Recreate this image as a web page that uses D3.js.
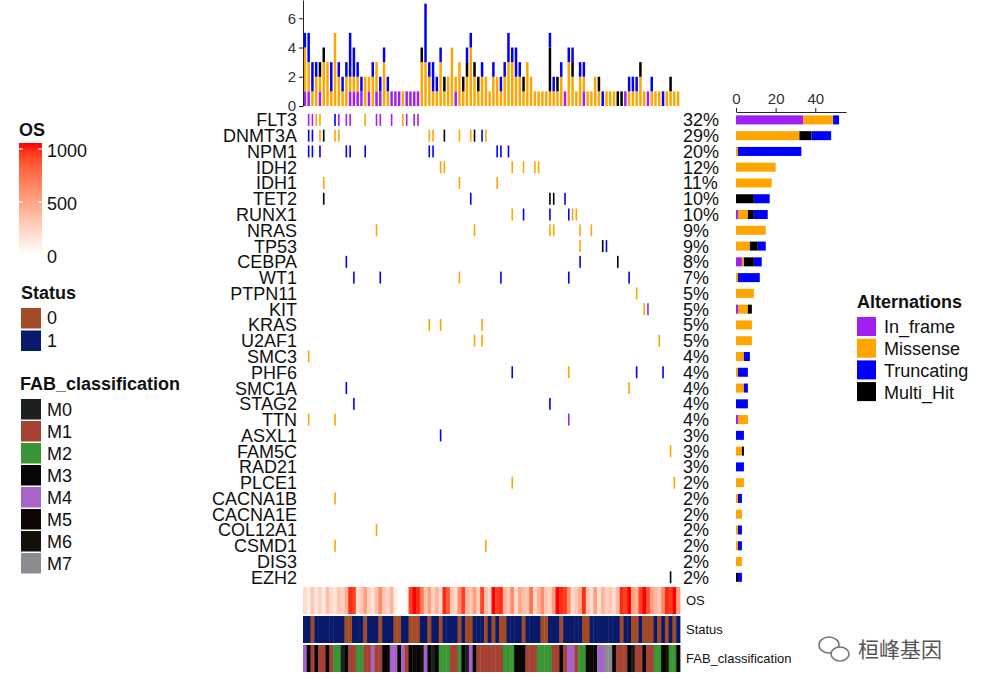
<!DOCTYPE html>
<html><head><meta charset="utf-8">
<script src="https://cdn.jsdelivr.net/npm/d3@7"></script>
<style>body{margin:0;background:#fff;} svg{display:block;font-family:"Liberation Sans",Arial,sans-serif;}</style>
</head><body><svg id="c" width="987" height="692"></svg>
<script>
// ---------------- DATA ----------------
const genes = ["FLT3","DNMT3A","NPM1","IDH2","IDH1","TET2","RUNX1","NRAS","TP53","CEBPA","WT1","PTPN11","KIT","KRAS","U2AF1","SMC3","PHF6","SMC1A","STAG2","TTN","ASXL1","FAM5C","RAD21","PLCE1","CACNA1B","CACNA1E","COL12A1","CSMD1","DIS3","EZH2"];
const genePct = ["32%","29%","20%","12%","11%","10%","10%","9%","9%","8%","7%","5%","5%","5%","5%","4%","4%","4%","4%","4%","3%","3%","3%","2%","2%","2%","2%","2%","2%","2%"];
// right side bar plot (counts per gene)
const geneInframe   = [34,0,0,0,0,0,1,0,0,3,0,0,1,0,0,0,0,0,0,1,0,0,0,0,0,0,0,0,0,0];
const geneMissense  = [15,32,1,20,18,0,5,15,7,1,1,9,5,8,8,4,1,4,0,5,0,3,0,4,1,3,1,1,3,0];
const geneMultiHit  = [0,6,0,0,0,9,3,0,4,5,0,0,2,0,0,0,0,0,0,0,0,1,0,0,0,0,0,0,0,1];
const geneTruncating= [3,10,32,0,0,8,7,0,4,4,11,0,0,0,0,3,5,2,6,0,4,0,4,0,2,0,2,2,0,2];
const rightTicks = [0,20,40];
const topTicks = [0,2,4,6];
// top bar plot (variants per sample), 100 samples
const topInframe   = [1,1,0,0,1,0,0,0,0,0,0,0,1,1,1,1,0,1,0,1,1,0,0,1,1,1,0,1,1,1,1,0,0,0,0,0,0,0,0,0,1,0,0,0,0,0,0,0,0,0,0,0,0,0,0,0,0,0,0,0,0,0,0,0,0,0,0,0,0,1,0,0,0,0,1,0,0,0,0,0,0,0,0,0,0,1,0,0,0,0,0,1,0,0,0,0,0,0,0,0];
const topMissense  = [3,2,1,2,1,3,3,1,5,2,1,2,1,1,1,0,2,1,2,2,0,3,1,0,0,0,1,0,0,0,0,3,3,2,1,1,3,1,2,4,1,3,1,2,4,2,1,2,2,1,2,2,1,2,3,3,2,2,1,3,2,1,1,1,1,1,1,1,2,0,3,2,1,2,1,1,1,2,1,0,1,1,1,0,0,0,1,1,1,2,1,0,1,1,1,0,1,1,1,1];
const topMultiHit  = [0,0,0,0,1,1,0,0,0,0,0,0,0,0,0,0,0,0,0,0,0,0,0,0,0,0,0,0,0,0,0,1,0,0,0,0,0,1,0,0,0,0,1,1,0,1,1,0,0,0,0,0,0,0,0,0,0,0,1,0,0,0,0,0,0,3,0,1,0,0,0,1,0,0,0,0,0,0,1,0,0,0,0,1,1,0,0,0,0,1,0,0,0,0,0,0,0,1,0,0];
const topTruncating= [1,2,2,1,0,0,0,2,0,1,1,1,3,2,1,1,0,0,1,0,1,1,1,0,0,0,0,0,0,0,0,0,4,1,2,1,1,0,0,0,0,0,0,1,1,0,0,1,0,0,1,0,1,1,2,1,2,1,0,0,0,0,0,0,0,1,1,0,1,0,1,1,0,1,1,0,0,0,0,1,0,0,0,0,0,0,1,1,1,0,0,0,1,0,0,1,0,0,0,0];
// oncoprint cells: [gene, sample, variant]
const cells = [
 ["FLT3",1,"In_frame"],["FLT3",2,"In_frame"],["FLT3",3,"Missense"],["FLT3",4,"Missense"],["FLT3",8,"Truncating"],["FLT3",9,"In_frame"],["FLT3",11,"In_frame"],["FLT3",12,"In_frame"],["FLT3",16,"Missense"],["FLT3",19,"In_frame"],["FLT3",20,"In_frame"],["FLT3",23,"In_frame"],["FLT3",26,"Missense"],["FLT3",27,"In_frame"],["FLT3",29,"In_frame"],["FLT3",30,"In_frame"],
 ["DNMT3A",1,"Truncating"],["DNMT3A",2,"Truncating"],["DNMT3A",4,"Missense"],["DNMT3A",5,"Multi_Hit"],["DNMT3A",8,"Missense"],["DNMT3A",9,"Missense"],["DNMT3A",33,"Missense"],["DNMT3A",34,"Missense"],["DNMT3A",37,"Multi_Hit"],["DNMT3A",41,"Missense"],["DNMT3A",44,"Missense"],["DNMT3A",45,"Multi_Hit"],["DNMT3A",47,"Truncating"],["DNMT3A",48,"Missense"],
 ["NPM1",1,"Truncating"],["NPM1",2,"Truncating"],["NPM1",4,"Truncating"],["NPM1",11,"Truncating"],["NPM1",12,"Truncating"],["NPM1",16,"Truncating"],["NPM1",33,"Truncating"],["NPM1",34,"Truncating"],["NPM1",51,"Truncating"],["NPM1",52,"Truncating"],["NPM1",54,"Truncating"],
 ["IDH2",36,"Missense"],["IDH2",37,"Missense"],["IDH2",55,"Missense"],["IDH2",58,"Missense"],["IDH2",61,"Missense"],["IDH2",62,"Missense"],
 ["IDH1",5,"Missense"],["IDH1",41,"Missense"],["IDH1",51,"Missense"],
 ["TET2",5,"Multi_Hit"],["TET2",44,"Truncating"],["TET2",65,"Multi_Hit"],["TET2",66,"Multi_Hit"],["TET2",69,"Truncating"],
 ["RUNX1",55,"Missense"],["RUNX1",58,"Truncating"],["RUNX1",65,"Truncating"],["RUNX1",70,"Truncating"],["RUNX1",71,"Missense"],["RUNX1",72,"Missense"],
 ["NRAS",19,"Missense"],["NRAS",45,"Missense"],["NRAS",65,"Missense"],["NRAS",66,"Missense"],["NRAS",73,"Missense"],["NRAS",76,"Missense"],
 ["TP53",73,"Missense"],["TP53",79,"Multi_Hit"],["TP53",80,"Truncating"],
 ["CEBPA",11,"Truncating"],["CEBPA",73,"Truncating"],["CEBPA",83,"Multi_Hit"],
 ["WT1",13,"Truncating"],["WT1",20,"Truncating"],["WT1",41,"Missense"],["WT1",52,"Truncating"],["WT1",70,"Truncating"],["WT1",86,"Truncating"],
 ["PTPN11",88,"Missense"],
 ["KIT",90,"Missense"],["KIT",91,"In_frame"],
 ["KRAS",33,"Missense"],["KRAS",36,"Missense"],["KRAS",47,"Missense"],
 ["U2AF1",45,"Missense"],["U2AF1",47,"Missense"],["U2AF1",94,"Missense"],
 ["SMC3",1,"Missense"],
 ["PHF6",55,"Truncating"],["PHF6",70,"Missense"],["PHF6",88,"Truncating"],["PHF6",95,"Truncating"],
 ["SMC1A",11,"Truncating"],["SMC1A",86,"Missense"],
 ["STAG2",13,"Truncating"],["STAG2",65,"Truncating"],
 ["TTN",1,"Missense"],["TTN",8,"Missense"],["TTN",70,"In_frame"],
 ["ASXL1",36,"Truncating"],
 ["FAM5C",97,"Missense"],
 ["PLCE1",55,"Missense"],["PLCE1",98,"Missense"],
 ["CACNA1B",8,"Missense"],
 ["COL12A1",19,"Missense"],
 ["CSMD1",8,"Missense"],["CSMD1",48,"Missense"],
 ["EZH2",97,"Multi_Hit"]
];
// clinical annotations per sample
const osDays = [200,100,300,150,250,100,350,200,150,300,250,400,950,900,200,300,500,250,150,350,600,300,200,400,100,20,10,30,900,1000,950,700,300,500,250,400,200,950,800,300,200,600,900,400,300,500,250,900,350,200,1000,900,950,400,300,600,200,450,350,300,700,200,400,600,300,250,500,1000,950,900,600,200,300,450,950,300,200,500,150,400,250,300,200,350,950,900,1000,500,400,900,1000,850,500,400,300,600,950,900,1000,500];
const status = [1,1,0,1,1,1,1,1,1,1,1,0,0,1,1,1,0,1,1,1,0,1,1,1,0,0,1,1,0,0,0,1,1,0,1,1,0,1,1,1,1,0,1,0,0,1,1,1,0,1,0,1,0,0,1,1,1,1,0,1,1,1,1,0,0,1,1,1,0,1,1,1,1,1,0,0,1,1,1,1,1,1,1,1,0,1,1,0,0,1,0,0,0,1,0,1,0,1,0,1];
const fab = ["M4","M3","M1","M3","M1","M1","M3","M1","M2","M2","M0","M3","M1","M1","M2","M2","M1","M1","M4","M1","M1","M3","M5","M4","M4","M3","M4","M1","M3","M5","M3","M6","M4","M3","M0","M3","M2","M2","M2","M1","M1","M2","M3","M0","M4","M3","M1","M1","M1","M1","M1","M1","M1","M2","M2","M2","M3","M5","M3","M1","M1","M1","M2","M2","M2","M2","M1","M1","M3","M1","M4","M4","M1","M2","M2","M3","M5","M3","M4","M4","M7","M7","M3","M1","M1","M1","M3","M0","M1","M1","M3","M1","M1","M2","M2","M3","M6","M2","M2","M3"];
const fabLevels = ["M0","M1","M2","M3","M4","M5","M6","M7"];
const statusLevels = [0,1];
const variantTypes = ["In_frame","Missense","Truncating","Multi_Hit"];
const osTicks = [0,500,1000];

// ---------------- STYLE ----------------
const vcol = {In_frame:"#A020F0",Missense:"#FFA500",Truncating:"#0000FF",Multi_Hit:"#000000"};
const fabCol = {M0:"#1B1F1E",M1:"#A64234",M2:"#3A9634",M3:"#060606",M4:"#A664C8",M5:"#0C0605",M6:"#16100A",M7:"#8A8C90"};
const statusCol = {0:"#A34A26",1:"#091A6B"};
const osColor = d3.scaleLinear().domain([0,1000]).range(["#ffffff","#ff0000"]).interpolate(d3.interpolateLab);

const svg = d3.select("#c");
const samples = d3.range(osDays.length);
const x = d3.scaleBand().domain(samples).range([303,680]);
const bw = x.bandwidth();
const y = d3.scaleBand().domain(genes).range([112,585.2]);
const rh = y.bandwidth();

// ---------------- TOP BAR PLOT ----------------
const yTop = d3.scaleLinear().domain([0,7.25]).range([106,0]);
const topStack = samples.map(i=>({i, In_frame:topInframe[i], Missense:topMissense[i], Multi_Hit:topMultiHit[i], Truncating:topTruncating[i]}));
const stackOrder = ["In_frame","Missense","Multi_Hit","Truncating"];
const stTop = d3.stack().keys(stackOrder)(topStack);
svg.append("g").selectAll("g").data(stTop).join("g").attr("fill",d=>vcol[d.key])
  .selectAll("rect").data(d=>d.filter(s=>s[1]>s[0])).join("rect")
  .attr("x",d=>x(d.data.i)+bw*0.17).attr("width",bw*0.66)
  .attr("y",d=>yTop(d[1])).attr("height",d=>yTop(d[0])-yTop(d[1]));
const axL = svg.append("g").attr("transform","translate(303,0)")
  .call(d3.axisLeft(yTop).tickValues(topTicks).tickSize(4).tickSizeOuter(0).tickFormat(d3.format("d")));
axL.select(".domain").attr("stroke","#222");
axL.selectAll(".tick line").attr("stroke","#222");
axL.selectAll("text").attr("font-size",15).attr("fill","#333").attr("font-family","Liberation Sans, Arial");

// ---------------- ONCOPRINT MATRIX ----------------
svg.append("g").selectAll("rect").data(cells).join("rect")
  .attr("x",d=>x(d[1])+bw/2-0.8).attr("width",1.6)
  .attr("y",d=>y(d[0])+rh/2-6).attr("height",12)
  .attr("fill",d=>vcol[d[2]]);

svg.append("g").selectAll("text").data(genes).join("text")
  .attr("x",297).attr("y",g=>y(g)+rh/2).attr("dy","0.36em")
  .attr("text-anchor","end").attr("font-size",18).attr("fill","#111").text(g=>g);
svg.append("g").selectAll("text").data(genePct).join("text")
  .attr("x",683).attr("y",(p,k)=>y(genes[k])+rh/2).attr("dy","0.36em")
  .attr("font-size",18).attr("fill","#111").text(p=>p);

// ---------------- RIGHT BAR PLOT ----------------
const xR = d3.scaleLinear().domain([0,55.5]).range([736,846]);
const gStack = genes.map((g,k)=>({g, In_frame:geneInframe[k], Missense:geneMissense[k], Multi_Hit:geneMultiHit[k], Truncating:geneTruncating[k]}));
const stR = d3.stack().keys(stackOrder)(gStack);
svg.append("g").selectAll("g").data(stR).join("g").attr("fill",d=>vcol[d.key])
  .selectAll("rect").data(d=>d.filter(s=>s[1]>s[0])).join("rect")
  .attr("x",d=>xR(d[0])).attr("width",d=>xR(d[1])-xR(d[0]))
  .attr("y",d=>y(d.data.g)+rh/2-4.5).attr("height",9);
const axT = svg.append("g").attr("transform","translate(0,112)")
  .call(d3.axisTop(xR).tickValues(rightTicks).tickSize(4).tickSizeOuter(0));
axT.select(".domain").attr("stroke","#222");
axT.selectAll(".tick line").attr("stroke","#222");
axT.selectAll("text").attr("font-size",15).attr("fill","#333").attr("font-family","Liberation Sans, Arial").attr("dy","-0.05em");

// ---------------- ANNOTATION TRACKS ----------------
const tracks = [
  {name:"OS", y0:587, fill:i=>osColor(osDays[i])},
  {name:"Status", y0:616, fill:i=>statusCol[status[i]]},
  {name:"FAB_classification", y0:645, fill:i=>fabCol[fab[i]]}
];
tracks.forEach(t=>{
  svg.append("g").selectAll("rect").data(samples).join("rect")
    .attr("x",i=>x(i)).attr("width",bw+0.4).attr("y",t.y0).attr("height",27)
    .attr("fill",t.fill);
  svg.append("text").attr("x",686).attr("y",t.y0+13.5).attr("dy","0.36em")
    .attr("font-size",13).attr("fill","#111").text(t.name);
});

// ---------------- LEFT LEGENDS ----------------
const defs = svg.append("defs");
const grad = defs.append("linearGradient").attr("id","osg").attr("x1",0).attr("x2",0).attr("y1",1).attr("y2",0);
d3.range(0,1.01,0.1).forEach(t=>grad.append("stop").attr("offset",t).attr("stop-color",osColor(t*1000)));
svg.append("text").attr("x",19).attr("y",136).attr("font-size",18).attr("font-weight","bold").attr("fill","#111").text("OS");
const osLeg = d3.scaleLinear().domain([0,1000]).range([255,149]);
svg.append("rect").attr("x",19).attr("y",143).attr("width",23).attr("height",112).attr("fill","url(#osg)");
svg.append("g").selectAll("line").data(osTicks.filter(v=>v>0)).join("line")
  .attr("x1",19).attr("x2",23).attr("y1",v=>osLeg(v)).attr("y2",v=>osLeg(v)).attr("stroke","#fff").attr("stroke-width",1.2);
svg.append("g").selectAll("line").data(osTicks.filter(v=>v>0)).join("line")
  .attr("x1",38).attr("x2",42).attr("y1",v=>osLeg(v)).attr("y2",v=>osLeg(v)).attr("stroke","#fff").attr("stroke-width",1.2);
svg.append("g").selectAll("text").data(osTicks).join("text")
  .attr("x",47).attr("y",v=>osLeg(v)+2).attr("dy","0.36em").attr("font-size",18).attr("fill","#111").text(v=>v);

svg.append("text").attr("x",21).attr("y",299).attr("font-size",18).attr("font-weight","bold").attr("fill","#111").text("Status");
svg.append("g").selectAll("rect").data(statusLevels).join("rect")
  .attr("x",21).attr("y",(s,k)=>308+k*22.5).attr("width",20).attr("height",20.5).attr("fill",s=>statusCol[s]);
svg.append("g").selectAll("text").data(statusLevels).join("text")
  .attr("x",47).attr("y",(s,k)=>318+k*22.5).attr("dy","0.36em").attr("font-size",18).attr("fill","#111").text(s=>s);

svg.append("text").attr("x",20).attr("y",390).attr("font-size",18).attr("font-weight","bold").attr("fill","#111").text("FAB_classification");
svg.append("g").selectAll("rect").data(fabLevels).join("rect")
  .attr("x",21).attr("y",(s,k)=>399+k*22).attr("width",20).attr("height",20.5).attr("fill",s=>fabCol[s]);
svg.append("g").selectAll("text").data(fabLevels).join("text")
  .attr("x",47).attr("y",(s,k)=>410+k*22).attr("dy","0.36em").attr("font-size",18).attr("fill","#111").text(s=>s);

// ---------------- RIGHT LEGEND ----------------
svg.append("text").attr("x",857).attr("y",308).attr("font-size",18).attr("font-weight","bold").attr("fill","#111").text("Alternations");
svg.append("g").selectAll("rect").data(variantTypes).join("rect")
  .attr("x",857).attr("y",(v,k)=>317+k*21.7).attr("width",19).attr("height",19).attr("fill",v=>vcol[v]);
svg.append("g").selectAll("text").data(variantTypes).join("text")
  .attr("x",884).attr("y",(v,k)=>327+k*21.7).attr("dy","0.36em").attr("font-size",18).attr("fill","#111").text(v=>v);

// ---------------- WATERMARK ----------------
const wm = svg.append("g").attr("fill","none").attr("stroke","#777").attr("stroke-width",1.6);
wm.append("ellipse").attr("cx",829).attr("cy",645).attr("rx",10).attr("ry",8);
wm.append("ellipse").attr("cx",840).attr("cy",654).attr("rx",9).attr("ry",7).attr("fill","#fff");
svg.append("text").attr("x",858).attr("y",657).attr("font-size",21).attr("fill","#555")
  .attr("font-family","Noto Sans CJK SC").text("桓峰基因");
</script></body></html>
